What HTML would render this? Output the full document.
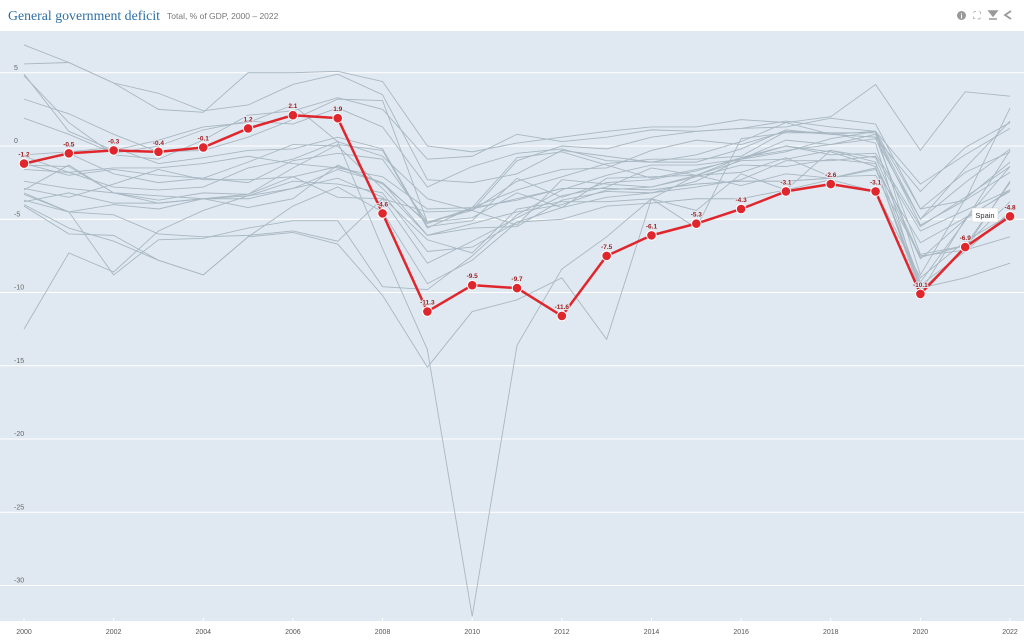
<!DOCTYPE html>
<html><head><meta charset="utf-8"><style>
body{margin:0;width:1024px;height:640px;overflow:hidden;background:#fff;font-family:"Liberation Sans",sans-serif}
svg{display:block}
</style></head><body>
<svg id="s" width="1024" height="640" xmlns="http://www.w3.org/2000/svg">
<rect x="0" y="0" width="1024" height="640" fill="#fff"/>
<rect x="0" y="31" width="1024" height="590" fill="#e0e9f1"/>
<text x="8" y="20" font-family="Liberation Serif,serif" font-size="14" fill="#2f6fa6" textLength="152" lengthAdjust="spacingAndGlyphs">General government deficit</text>
<text x="167" y="19" font-size="8.5" fill="#777">Total, % of GDP, 2000 – 2022</text>
<circle cx="961.5" cy="15.5" r="4.5" fill="#999"/><text x="961.5" y="18.5" font-size="7" font-weight="bold" fill="#fff" text-anchor="middle">i</text>
<text x="977" y="19" font-size="10" fill="#999" text-anchor="middle">⛶</text>
<path d="M989 11h8l-4 5z M989 19h8" stroke="#999" stroke-width="1.5" fill="#999"/>
<path d="M1011 11l-6 4l6 4" stroke="#999" stroke-width="1.8" fill="none"/>
<g id="g"></g>
</svg>
<script>
const X=i=>24+i*44.82, Y=v=>146-v*14.65;
const g=document.getElementById('g');let h='';
for(let v=5;v>=-30;v-=5){h+=`<line x1="0" x2="1024" y1="${Y(v)}" y2="${Y(v)}" stroke="#fff" stroke-width="1"/><text x="14" y="${Y(v)-3}" font-size="7" fill="#666">${v}</text>`}
for(let i=0;i<=22;i+=2){h+=`<line x1="${X(i)}" x2="${X(i)}" y1="618" y2="621" stroke="#fff"/><text x="${X(i)}" y="634" font-size="7" fill="#555" text-anchor="middle">${2000+i}</text>`}
const S=[
[6.9,5.7,4.3,3.6,2.4,2.8,4.2,4.9,3.5,-2.3,-2.5,-1.9,-0.3,-0.7,-1.1,-0.6,0.3,1.6,0.8,1.0,-2.6,-0.6,1.2],
[5.6,5.7,4.3,2.5,2.3,5.0,5.0,5.1,4.4,0,-0.4,0.2,0.6,1.0,1.3,1.3,1.8,1.6,2.0,4.2,-0.3,3.7,3.4],
[4.8,1.6,-0.6,-0.9,0.4,2.1,2.4,3.3,2.5,-0.9,-0.7,0.8,0.3,0.6,1.1,1.0,1.2,1.7,1.3,1.0,-4.3,-1.8,-0.4],
[3.2,2.2,0.8,-0.4,-0.3,0.6,1.8,3.2,3.1,-5.2,-4.4,-2.4,-1.6,-1.5,-0.3,0.4,0.1,1.0,0.9,0.9,-5.0,-2.5,-0.2],
[1.9,0.8,-0.5,0.0,1.1,1.7,1.5,2.6,1.3,-2.8,-1.4,-0.5,-0.2,-1.0,-1.1,-1.1,-0.2,1.1,0.8,0.6,-3.1,-0.1,1.6],
[-0.6,-0.4,-0.1,-1.2,-0.8,-0.3,-0.2,0.6,-0.2,-5.5,-5.1,-2.2,-3.5,-2.5,-2.3,-1.7,-0.8,0.0,-0.6,-0.5,-5.5,-3.5,-1.4],
[-1.2,-2.0,-1.6,-2.0,-2.2,-2.5,-1.0,-0.5,-0.9,-5.2,-4.9,-3.2,-4.2,-3.5,-3.2,-2.8,-2.3,-1.0,-1.0,-0.7,-5.8,-4.4,-3.0],
[-1.6,-1.8,-2.8,-3.0,-2.8,-1.5,-0.9,0.3,-0.7,-3.6,-4.4,-1.0,0.0,-0.2,0.6,1.0,1.2,1.3,1.9,1.5,-4.3,-3.7,2.6],
[-3.0,-1.3,-3.2,-3.7,-3.2,-3.3,-1.5,0.1,-0.3,-5.6,-4.2,-3.0,-2.1,-1.2,-0.9,-0.9,-0.7,1.0,0.8,0.6,-7.4,-6.8,-2.5],
[-1.3,-1.4,-3.2,-3.9,-3.6,-3.4,-2.4,-2.6,-3.2,-7.2,-6.9,-5.2,-5.0,-4.1,-3.9,-3.6,-3.6,-3.0,-2.3,-3.1,-9.0,-6.5,-4.7],
[-2.4,-2.9,-3.2,-3.4,-3.6,-4.2,-3.6,-1.3,-2.6,-5.2,-4.3,-3.6,-2.9,-2.9,-3.0,-2.6,-2.4,-2.4,-2.2,-1.5,-9.7,-9.0,-8.0],
[-3.3,-4.5,-4.0,-4.3,-3.6,-3.3,-2.1,-1.4,-2.5,-5.3,-4.2,-3.7,-2.9,-2.9,-3.0,-2.6,-2.4,-2.4,-2.2,-1.5,-9.5,-7.2,-4.5],
[-3.8,-3.2,-3.9,-3.9,-3.6,-3.6,-2.9,-1.6,-2.5,-6.1,-5.3,-4.5,-4.0,-3.0,-2.8,-2.1,-1.3,-1.4,-0.9,-1.2,-7.7,-5.0,-3.0],
[-3.2,-4.5,-4.7,-6.0,-6.2,-6.1,-5.8,-6.5,-3.6,-4.5,-4.4,-5.4,-2.3,-2.6,-2.8,-2.0,-1.8,-0.8,-2.1,-2.0,-7.5,-7.1,-6.2],
[-4.0,-5.6,-6.5,-7.8,-8.8,-6.2,-4.1,-2.8,-4.5,-9.4,-7.8,-5.2,-4.2,-2.2,-2.1,-2.0,-1.0,-0.9,-0.3,-0.8,-7.6,-6.8,-3.8],
[-3.7,-4.5,-8.8,-6.4,-6.3,-5.6,-5.1,-5.1,-9.6,-9.8,-7.5,-4.7,-3.0,-2.0,-1.3,-1.3,-0.9,0.0,-0.4,-1.4,-10,-5.0,-1.4],
[-12.5,-7.3,-8.6,-5.8,-4.4,-3.4,-2.9,-2.2,-3.5,-6.4,-7.3,-4.3,-3.8,-3.8,-3.6,-4.4,-1.9,-3.0,-0.3,-1.1,-9.3,-5.1,-0.3],
[-4.1,-6.0,-6.1,-7.8,-8.8,-6.2,-5.9,-6.7,-10.2,-15.1,-11.3,-10.5,-9.0,-13.2,-3.6,-5.6,0.5,0.9,0.9,0.2,-9.9,-7.0,-2.4],
[4.9,1.0,-0.3,0.4,1.3,1.6,2.8,0.3,-7.0,-13.9,-32.1,-13.6,-8.4,-6.2,-3.6,-2.0,-0.8,-0.3,0.1,0.5,-5.0,-1.5,1.7],
[-1.3,-0.5,-1.9,-2.5,-2.2,-1.1,0.1,0.0,-2.9,-6.1,-5.6,-5.5,-3.7,-3.1,-3.2,-2.4,-0.9,-0.4,0.5,1.0,-8.8,-3.6,-1.1],
[-0.7,-1.8,-1.5,-1.5,-1.2,-0.7,-1.2,-1.5,-2.1,-4.3,-4.2,-0.8,-0.4,-1.3,-2.2,-1.6,-0.9,0.4,0.1,0.8,-5.4,-3.7,-1.8],
[-2.9,-3.5,-2.6,-1.6,-2.3,-2.3,-2.1,-3.5,-3.6,-8.0,-6.5,-4.9,-3.4,-2.8,-1.5,-2.0,-2.7,-1.9,-2.2,-1.6,-6.6,-4.9,-3.1]
];
S.forEach(s=>{h+=`<polyline fill="none" stroke="#a8b7c2" stroke-width="0.9" points="${s.map((v,i)=>X(i)+','+Y(v)).join(' ')}"/>`});
const R=[-1.2,-0.5,-0.3,-0.4,-0.1,1.2,2.1,1.9,-4.6,-11.3,-9.5,-9.7,-11.6,-7.5,-6.1,-5.3,-4.3,-3.1,-2.6,-3.1,-10.1,-6.9,-4.8];
h+=`<polyline fill="none" stroke="#e0262d" stroke-width="2.5" stroke-linejoin="round" points="${R.map((v,i)=>X(i)+','+Y(v)).join(' ')}"/>`;
R.forEach((v,i)=>{h+=`<circle cx="${X(i)}" cy="${Y(v)}" r="4.8" fill="#e0262d" stroke="#fff" stroke-width="1"/><text x="${X(i)}" y="${Y(v)-7}" font-size="6.5" font-weight="bold" fill="#9b1b1b" text-anchor="middle" stroke="#e0e9f1" stroke-width="2" paint-order="stroke">${v.toFixed(1)}</text>`});
h+=`<rect x="972" y="208" width="26" height="14" fill="#fff" stroke="#ccc" stroke-width="0.5"/><text x="985" y="218" font-size="7.5" fill="#333" text-anchor="middle">Spain</text>`;
g.innerHTML=h;
</script>
</body></html>
